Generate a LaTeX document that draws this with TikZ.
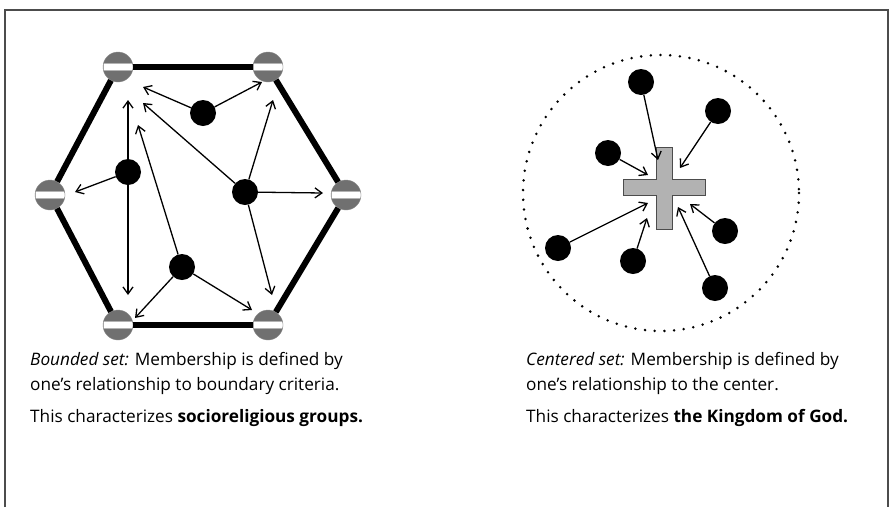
\documentclass[tikz,border=0pt]{standalone}
\usepackage{fontspec}
\setmainfont{Open Sans}
\usetikzlibrary{arrows.meta}

\tikzset{
  gate/.style={circle, fill=black!56, draw=black!45, minimum size=30pt,
    path picture={\filldraw[white, draw=black!30]
      ([yshift=-3.5pt]path picture bounding box.west) rectangle
      ([yshift=3.5pt]path picture bounding box.east);}},
  member/.style={circle, fill=black, minimum size=26pt},
  fence/.style={line width=6pt},
  link/.style={line width=1.3pt, -{Straight Barb[length=7pt,width=10pt]}},
  caption/.style={anchor=base west, font=\fontsize{17.2}{20}\selectfont},
}

\begin{document}
\begin{tikzpicture}[x=1pt,y=-1pt]
\tikzstyle{every node}+=[inner sep=0pt]
\useasboundingbox (0,0) rectangle (891,507);
% frame
\draw [black!70, line width=2pt] (5,507) -- (5,10) -- (888,10) -- (888,507);

% bounded set
\node [gate] (tl) at (118,67) {};
\node [gate] (tr) at (268,67) {};
\node [gate] (ml) at (50,195) {};
\node [gate] (mr) at (346,195) {};
\node [gate] (bl) at (118,325) {};
\node [gate] (br) at (268,325) {};
\draw [fence] (tl) -- (tr);
\draw [fence] (tr) -- (mr);
\draw [fence] (mr) -- (br);
\draw [fence] (br) -- (bl);
\draw [fence] (bl) -- (ml);
\draw [fence] (ml) -- (tl);
\node [member] (m1) at (203,113) {};
\node [member] (m2) at (128,172) {};
\node [member] (m3) at (245,192) {};
\node [member] (m4) at (182,267) {};
\coordinate (m1a) at (143,87);
\coordinate (m1b) at (262,82);
\coordinate (m2a) at (128,100);
\coordinate (m2b) at (128,295);
\coordinate (m2c) at (75,192);
\coordinate (m3a) at (143,103);
\coordinate (m3b) at (273,100);
\coordinate (m3c) at (323,193);
\coordinate (m3d) at (272,295);
\coordinate (m4a) at (138,125);
\coordinate (m4b) at (135,318);
\coordinate (m4c) at (252,310);
\draw [link] (m1) -- (m1a);
\draw [link] (m1) -- (m1b);
\draw [link] (m2) -- (m2a);
\draw [link] (m2) -- (m2b);
\draw [link] (m2) -- (m2c);
\draw [link] (m3) -- (m3a);
\draw [link] (m3) -- (m3b);
\draw [link] (m3) -- (m3c);
\draw [link] (m3) -- (m3d);
\draw [link] (m4) -- (m4a);
\draw [link] (m4) -- (m4b);
\draw [link] (m4) -- (m4c);

% centered set
\draw [line width=2.8pt, line cap=round, dash pattern=on 0pt off 9.7pt] (661,193) circle (138);
\filldraw [fill=black!30, draw=black!70, line width=0.8pt]
  (656,147) -- (672,147) -- (672,179) -- (705,179) -- (705,195) -- (672,195)
  -- (672,229) -- (656,229) -- (656,195) -- (623,195) -- (623,179) -- (656,179) -- cycle;
\node [member] (c1) at (641,82) {};
\node [member] (c2) at (718,111) {};
\node [member] (c3) at (608,153) {};
\node [member] (c4) at (558,248) {};
\node [member] (c5) at (633,261) {};
\node [member] (c6) at (725,231) {};
\node [member] (c7) at (715,288) {};
\coordinate (c1t) at (658,160);
\coordinate (c2t) at (680,168);
\coordinate (c3t) at (648,175);
\coordinate (c4t) at (648,203);
\coordinate (c5t) at (647,218);
\coordinate (c6t) at (690,204);
\coordinate (c7t) at (678,207);
\draw [link] (c1) -- (c1t);
\draw [link] (c2) -- (c2t);
\draw [link] (c3) -- (c3t);
\draw [link] (c4) -- (c4t);
\draw [link] (c5) -- (c5t);
\draw [link] (c6) -- (c6t);
\draw [link] (c7) -- (c7t);

% captions
\node [caption] (b1) at (30,365) {\textit{Bounded set:} Membership is defined by};
\node [caption] (b2) at (30,390) {one’s relationship to boundary criteria.};
\node [caption] (b3) at (30,422) {This characterizes \textbf{socioreligious groups.}};
\node [caption] (c1l) at (526,365) {\textit{Centered set:} Membership is defined by};
\node [caption] (c2l) at (526,390) {one’s relationship to the center.};
\node [caption] (c3l) at (526,422) {This characterizes \textbf{the Kingdom of God.}};
\end{tikzpicture}
\end{document}
